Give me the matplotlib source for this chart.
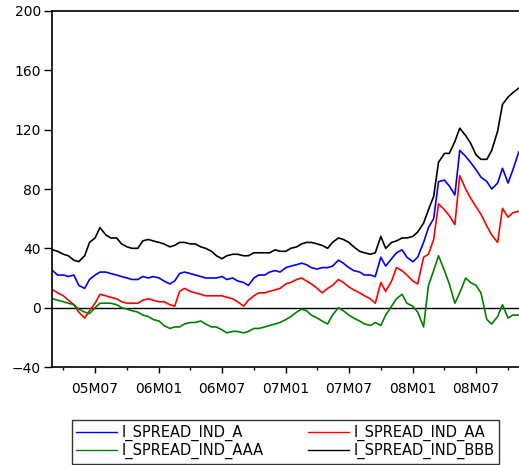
import matplotlib
matplotlib.use('Agg')
import matplotlib.pyplot as plt
import matplotlib.dates as mdates
import pandas as pd

# semi-monthly readings taken off the reference chart
dates = pd.date_range('2005-03-01', '2008-11-01', freq='SMS')

spread_a = [25, 22, 22, 21, 22, 15, 13, 19, 22, 24, 24, 23, 22, 21, 20, 19, 19, 21, 20, 21,
            20, 18, 16, 18, 23, 24, 23, 22, 21, 20, 20, 20, 21, 19, 20, 18, 17, 15, 20, 22, 22, 24, 25, 24,
            27, 28, 29, 30, 29, 27, 26, 27, 27, 28, 32, 30, 27, 25, 24, 22, 22, 21, 34, 28, 33, 37, 39, 34,
            31, 34, 44, 54, 60, 85, 86, 82, 76, 106, 102, 98, 93, 88, 85, 80, 84, 94, 84, 93, 105]
spread_aa = [12, 10, 8, 5, 2, -3, -7, -2, 3, 9, 8, 7, 6, 4, 3, 3, 3, 5, 6, 5,
             4, 4, 2, 1, 11, 13, 11, 10, 9, 8, 8, 8, 8, 7, 6, 4, 1, 5, 8, 10, 10, 11, 12, 13,
             16, 17, 19, 20, 18, 16, 13, 10, 13, 15, 19, 17, 14, 12, 10, 8, 6, 3, 17, 11, 18, 27, 25, 22,
             18, 16, 34, 36, 46, 70, 66, 62, 56, 89, 80, 74, 68, 63, 55, 49, 44, 67, 61, 64, 65]
spread_aaa = [6, 5, 4, 3, 2, -1, -3, -4, 0, 3, 3, 3, 2, 0, -1, -2, -3, -5, -6, -8,
              -9, -12, -14, -13, -13, -11, -10, -10, -9, -11, -13, -13, -15, -17, -16, -16, -17, -16, -14, -14, -13, -12, -11, -10,
              -8, -6, -3, -1, -2, -5, -7, -9, -11, -5, 0, -2, -5, -7, -9, -11, -12, -10, -12, -5, 1, 6, 9, 3,
              1, -3, -13, 15, 25, 35, 25, 16, 3, 10, 20, 17, 15, 10, -8, -11, -6, 2, -7, -5, -5]
spread_bbb = [39, 38, 36, 35, 32, 31, 35, 44, 47, 54, 49, 47, 47, 43, 41, 40, 40, 45, 46, 45,
              44, 43, 41, 42, 44, 44, 43, 43, 41, 40, 38, 35, 33, 35, 36, 36, 35, 35, 37, 37, 37, 37, 39, 38,
              38, 40, 41, 43, 44, 44, 43, 42, 40, 44, 47, 46, 44, 41, 38, 37, 36, 37, 48, 40, 44, 45, 47, 47,
              48, 51, 57, 66, 75, 98, 104, 104, 112, 121, 116, 111, 103, 100, 100, 106, 119, 137, 142, 145, 148]

y_ticks = [-40, 0, 40, 80, 120, 160, 200]

plt.rcParams['font.family'] = 'DejaVu Sans'
plt.rcParams['font.size'] = 10

fig = plt.figure(figsize=(5.19, 4.65), dpi=100)
ax = fig.add_axes([52 / 519, 1 - 367 / 465, 467 / 519, 356 / 465])

ax.axhline(0, color='black', lw=1.0, zorder=1)
l_a, = ax.plot(dates, spread_a, color='#0000ff', lw=1.2, label='I_SPREAD_IND_A')
l_aa, = ax.plot(dates, spread_aa, color='#ff0000', lw=1.2, label='I_SPREAD_IND_AA')
l_aaa, = ax.plot(dates, spread_aaa, color='#008000', lw=1.2, label='I_SPREAD_IND_AAA')
l_bbb, = ax.plot(dates, spread_bbb, color='black', lw=1.2, label='I_SPREAD_IND_BBB')

ax.set_xlim(pd.Timestamp('2005-02-27'), pd.Timestamp('2008-11-01 12:00'))
ax.set_ylim(-40, 200)
ax.set_yticks(y_ticks)

ax.xaxis.set_major_locator(mdates.MonthLocator(bymonth=[1, 7]))
ax.xaxis.set_minor_locator(mdates.MonthLocator(bymonth=[1, 4, 7, 10]))
ax.xaxis.set_major_formatter(mdates.DateFormatter('%yM%m'))

ax.tick_params(axis='y', direction='out', length=6, width=1, pad=2)
ax.tick_params(axis='x', which='major', direction='out', length=4.5, width=1, pad=6)
ax.tick_params(axis='x', which='minor', direction='out', length=2.5, width=1)

ax.spines['right'].set_visible(False)
for side in ['top', 'left', 'bottom']:
    ax.spines[side].set_linewidth(1.2)

# EViews style legend box under the plot, A/AA on top row, AAA/BBB below
leg = fig.legend(handles=[l_a, l_aaa, l_aa, l_bbb], ncol=2, loc='center',
                 bbox_to_anchor=(72 / 519, 1 - 464 / 465, 427 / 519, 44 / 465),
                 mode='expand', frameon=True, fancybox=False, edgecolor='black',
                 fontsize=10.5, handlelength=2.8, handletextpad=0.3, borderpad=0.3,
                 labelspacing=0.15, columnspacing=1.0, borderaxespad=0)
leg.get_frame().set_linewidth(1.0)
for h in leg.legend_handles:
    h.set_linewidth(1.0)

fig.savefig('out.png', dpi=100)
